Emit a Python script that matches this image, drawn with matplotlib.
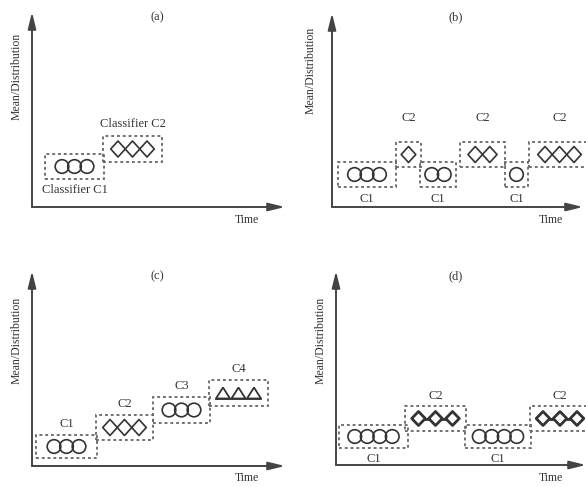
import matplotlib
matplotlib.use("Agg")
import matplotlib.pyplot as plt
from matplotlib.patches import Rectangle, Circle, Polygon

plt.rcParams['font.family'] = ['Liberation Serif', 'DejaVu Serif']

# each panel: one dashed box per segment -> time range, level range, shape, count, label
a_t0 = [13, 71]
a_t1 = [72, 130]
a_lo = [28, 45]
a_hi = [53, 71]
a_shape = ['circle', 'diamond']
a_n = [3, 3]
a_label = ['Classifier C1', 'Classifier C2']
a_side = ['below', 'above']

b_t0 = [6, 64, 88, 128, 173, 197]
b_t1 = [64, 89, 124, 173, 196, 258]
b_lo = [20, 40, 20, 40, 20, 40]
b_hi = [45, 65, 45, 65, 45, 65]
b_shape = ['circle', 'diamond', 'circle', 'diamond', 'circle', 'diamond']
b_n = [3, 1, 2, 2, 1, 3]
b_label = ['C1', 'C2', 'C1', 'C2', 'C1', 'C2']
b_side = ['below', 'above', 'below', 'above', 'below', 'above']

c_t0 = [4, 64, 121, 177]
c_t1 = [65, 121, 178, 236]
c_lo = [8, 26, 43, 60]
c_hi = [31, 51, 69, 86]
c_shape = ['circle', 'diamond', 'circle', 'triangle']
c_n = [3, 3, 3, 3]
c_label = ['C1', 'C2', 'C3', 'C4']
c_side = ['above', 'above', 'above', 'above']

d_t0 = [3, 69, 129, 194]
d_t1 = [72, 130, 195, 254]
d_lo = [17, 34, 17, 34]
d_hi = [40, 59, 40, 59]
d_shape = ['circle', 'bolddiamond', 'circle', 'bolddiamond']
d_n = [4, 3, 4, 3]
d_label = ['C1', 'C2', 'C1', 'C2']
d_side = ['below', 'above', 'below', 'above']

FW, FH = 586, 487
INK = '#333333'
BOX = '#666666'


def draw_shapes(ax, shape, n, xc, yc):
    if shape == 'circle':
        step, r = 12.5, 6.8
        for i in range(n):
            x = xc + (i - (n - 1) / 2) * step
            ax.add_patch(Circle((x, yc), r, fill=False, ec=INK, lw=1.2, clip_on=False))
    elif shape in ('diamond', 'bolddiamond'):
        bold = shape == 'bolddiamond'
        step = 17.0 if bold else 14.5
        hw, hh = (6.8, 7.0) if bold else (7.3, 8.0)
        lw = 2.0 if bold else 1.2
        xs = [xc + (i - (n - 1) / 2) * step for i in range(n)]
        for x in xs:
            pts = [(x - hw, yc), (x, yc + hh), (x + hw, yc), (x, yc - hh)]
            ax.add_patch(Polygon(pts, closed=True, fill=False, ec=INK, lw=lw,
                                 joinstyle='round', clip_on=False))
        if bold:
            for x0, x1 in zip(xs[:-1], xs[1:]):
                ax.plot([x0 + hw, x1 - hw], [yc, yc], color=INK, lw=lw, clip_on=False)
    elif shape == 'triangle':
        step, hw, h = 15.5, 7.0, 11.0
        xs = [xc + (i - (n - 1) / 2) * step for i in range(n)]
        yb = yc - h / 2
        for x in xs:
            pts = [(x - hw, yb), (x, yb + h), (x + hw, yb)]
            ax.add_patch(Polygon(pts, closed=True, fill=False, ec=INK, lw=1.3, clip_on=False))
        ax.plot([xs[0] - hw, xs[-1] + hw], [yb, yb], color=INK, lw=1.3, clip_on=False)


def panel(origin, size, title, t0, t1, lo, hi, shapes, ns, labels, sides,
          title_pos, ylab_pos, time_pos, gap_above, gap_below):
    ox, oy = origin
    w, h = size
    ax = fig.add_axes([ox / FW, (FH - oy) / FH, w / FW, h / FH])
    ax.set_xlim(0, w)
    ax.set_ylim(0, h)
    ax.axis('off')

    arrow = dict(arrowstyle='-|>,head_length=0.9,head_width=0.22',
                 color='#444444', lw=1.4, mutation_scale=11, shrinkA=0, shrinkB=0)
    ax.annotate('', xy=(w, 0), xytext=(0, 0), arrowprops=arrow, annotation_clip=False)
    ax.annotate('', xy=(0, h), xytext=(0, 0), arrowprops=arrow, annotation_clip=False)

    ax.text(*title_pos, title, fontsize=9, color=INK, ha='center', va='center')
    ax.text(*ylab_pos, 'Mean/Distribution', fontsize=8.5, color=INK,
            rotation=90, ha='center', va='center')
    ax.text(*time_pos, 'Time', fontsize=8.5, color=INK, ha='center', va='center')

    for i in range(len(t0)):
        ax.add_patch(Rectangle((t0[i], lo[i]), t1[i] - t0[i], hi[i] - lo[i],
                               fill=False, ec=BOX, lw=1.3, ls=(0, (1.6, 1.6)),
                               clip_on=False))
        xc = (t0[i] + t1[i]) / 2
        yc = (lo[i] + hi[i]) / 2
        draw_shapes(ax, shapes[i], ns[i], xc, yc)
        if sides[i] == 'above':
            ax.text(xc, hi[i] + gap_above, labels[i], fontsize=9, color=INK,
                    ha='center', va='center')
        else:
            ax.text(xc, lo[i] - gap_below, labels[i], fontsize=9, color=INK,
                    ha='center', va='center')
    return ax


fig = plt.figure(figsize=(FW / 100, FH / 100), dpi=100)
fig.patch.set_facecolor('white')

panel((32, 207), (253, 195), '(a)', a_t0, a_t1, a_lo, a_hi, a_shape, a_n, a_label, a_side,
      (125, 190), (-15, 131), (215, -13), 12, 11)
panel((332, 207), (251, 194), '(b)', b_t0, b_t1, b_lo, b_hi, b_shape, b_n, b_label, b_side,
      (124, 190), (-21, 137), (219, -13), 24, 12)
panel((32, 466), (253, 195), '(c)', c_t0, c_t1, c_lo, c_hi, c_shape, c_n, c_label, c_side,
      (125, 190), (-15, 126), (215, -12), 11, 11)
panel((336, 465), (250, 194), '(d)', d_t0, d_t1, d_lo, d_hi, d_shape, d_n, d_label, d_side,
      (120, 189), (-15, 125), (215, -13), 10, 11)

fig.savefig('out.png', dpi=100, facecolor='white')
